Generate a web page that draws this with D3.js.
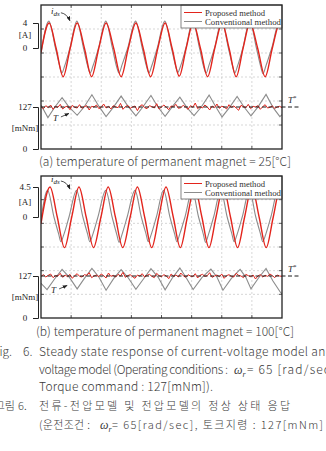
<!DOCTYPE html>
<html>
<head>
<meta charset="utf-8">
<script src="https://cdn.jsdelivr.net/npm/d3@7"></script>
<style>
  body { margin: 0; background: #fff; }
  svg { display: block; }
</style>
</head>
<body>
<svg id="chart" width="326" height="451"></svg>
<script>
// time base of both scope traces, ms (8 divisions, no labels)
const timeDomain = [0, 80];

// panel (a): 25 degC -- current i_ds [A], pairs of [ms, A]
const curRedA = [[0,-0.7],[2.7,4.0],[5.0,0],[7.35,-4.6],[9.7,0],[12.0,4.0],[14.4,0],[16.8,-4.6],[19.2,0],
  [21.6,4.0],[24.1,0],[26.6,-4.6],[29.0,0],[31.5,4.0],[33.9,0],[36.4,-4.6],[38.8,0],[41.2,4.0],[43.5,0],
  [45.9,-4.5],[48.2,0],[50.5,4.0],[52.9,0],[55.3,-4.6],[57.7,0],[60.1,4.0],[62.4,0],[64.8,-4.6],[67.1,0],
  [69.4,4.0],[71.9,0],[74.4,-4.6],[76.8,0],[79.3,4.0],[80,3.6]];
const curGrayA = [[0,-0.9],[2.6,4.3],[4.8,0],[6.2,-2.9],[6.9,-4.0],[7.9,-2.8],[9.6,0],
  [11.9,4.3],[14.1,0],[15.5,-2.9],[16.3,-4.0],[17.3,-2.8],[19.1,0],
  [21.5,4.3],[23.7,0],[25.1,-3.0],[25.9,-4.0],[26.9,-2.7],[28.8,0],
  [31.4,4.3],[33.6,0],[35.0,-2.9],[35.8,-4.0],[36.8,-2.8],[38.6,0],
  [41.1,4.3],[43.3,0],[44.7,-2.9],[45.4,-3.9],[46.4,-2.8],[48.1,0],
  [50.4,4.3],[52.6,0],[54.0,-3.0],[54.8,-4.0],[55.8,-2.7],[57.6,0],
  [60.0,4.3],[62.2,0],[63.6,-2.9],[64.3,-4.0],[65.3,-2.8],[67.0,0],
  [69.3,4.3],[71.5,0],[72.9,-2.9],[73.7,-4.1],[74.7,-2.8],[76.6,0],
  [79.2,4.3],[80,4.0]];

// panel (a): torque [mNm]; proposed is evenly sampled over the time base
const tqRedA = [128,122,131,125,133,120,129,126,135,121,127,130,119,132,126,124,134,123,128,131,
  118,129,127,133,122,126,136,124,129,121,131,127,125,138,120,128,132,123,127,130,
  116,129,134,125,122,131,128,124,137,121,127,133,126,119,130,128,135,123,125,132,
  127,120,131,126,139,122,128,124,133,127,118,130,125,136,123,129,127,121,134,126,
  130,124,117,132,128,125,135,122,129,127,131,120,128,134,124,126,130,123,127,129,125];
const tqGrayA = [[0,133],[2.3,95],[4.6,127],[7.0,155],[9.2,128],[12.0,102],[14.3,127],[16.9,164],
  [19.3,128],[21.6,98],[24.0,126],[26.6,160],[28.9,129],[31.5,100],[33.8,127],[36.5,162],[38.8,127],
  [41.2,99],[43.6,128],[46.1,157],[48.4,126],[50.8,101],[53.2,127],[55.8,163],[58.0,128],[60.1,97],
  [62.6,126],[65.1,159],[67.4,127],[69.7,100],[72.1,128],[74.7,165],[77.0,126],[79.3,98],[80,104]];

// panel (b): 100 degC
const curRedB = [[0,-1.0],[3.0,4.5],[5.4,0],[7.8,-4.6],[10.2,0],[12.6,4.5],[15.0,0],[17.45,-4.6],[19.9,0],
  [22.3,4.5],[24.7,0],[27.15,-4.6],[29.6,0],[32.0,4.5],[34.4,0],[36.75,-4.6],[39.1,0],[41.5,4.5],[43.9,0],
  [46.25,-4.6],[48.6,0],[51.0,4.5],[53.4,0],[55.75,-4.6],[58.1,0],[60.5,4.5],[62.9,0],[65.25,-4.6],[67.6,0],
  [70.0,4.5],[72.4,0],[74.75,-4.6],[77.1,0],[79.5,4.5],[80,4.3]];
const curGrayB = [[0,-0.3],[2.2,4.0],[4.3,0],[5.9,-2.6],[6.6,-3.7],[7.6,-2.6],[9.3,0],
  [11.8,4.0],[13.9,0],[15.5,-2.6],[16.2,-3.7],[17.2,-2.6],[18.9,0],
  [21.5,4.0],[23.6,0],[25.2,-2.7],[25.9,-3.8],[26.9,-2.6],[28.6,0],
  [31.2,4.0],[33.3,0],[34.9,-2.6],[35.6,-3.7],[36.6,-2.6],[38.3,0],
  [40.7,4.0],[42.8,0],[44.4,-2.6],[45.1,-3.7],[46.1,-2.5],[47.8,0],
  [50.2,4.0],[52.3,0],[53.9,-2.6],[54.6,-3.8],[55.6,-2.6],[57.3,0],
  [59.7,4.0],[61.8,0],[63.4,-2.6],[64.1,-3.7],[65.1,-2.6],[66.8,0],
  [69.2,4.0],[71.3,0],[72.9,-2.6],[73.6,-3.7],[74.6,-2.6],[76.3,0],
  [78.7,4.0],[80,3.3]];
const tqRedB = [126,131,124,129,133,122,128,127,135,123,130,125,132,120,128,134,126,124,131,129,
  137,122,127,130,125,133,128,121,136,126,129,124,132,127,138,123,128,131,125,120,
  130,127,134,124,129,132,126,122,135,128,125,131,127,119,133,126,130,124,136,128,
  123,131,127,125,134,121,129,132,126,128,137,123,127,130,125,133,120,128,131,126,
  124,135,129,127,122,132,128,125,130,118,127,131,124,129,126,133,128,122,130,127,126];
const tqGrayB = [[0,105],[2.0,86],[4.5,118],[7.0,147],[9.5,122],[12.0,88],[14.4,120],[16.9,150],
  [19.2,124],[21.6,84],[24.1,119],[26.6,146],[29.0,121],[31.5,87],[34.0,118],[36.5,149],[38.9,123],
  [41.2,85],[43.6,121],[46.1,151],[48.3,120],[50.5,86],[53.4,122],[56.4,148],[58.4,124],[60.4,84],
  [63.2,120],[66.1,147],[68.0,123],[69.7,88],[72.2,121],[74.7,150],[77.0,112],[79.3,80],[80,72]];

// axis ticks and labels
const curTicksA = [0, 4];
const curTicksB = [0, 4.5];
const torqueTicks = [0, 127];
const torqueRef = 127;
const legendLabels = ['Proposed method', 'Conventional method'];
const colors = ['#e3241c', '#8c8c8c'];

const svg = d3.select('#chart');
const left = 41, right = 282;
const serif = '"Liberation Serif","DejaVu Serif",serif';
const sans = '"Noto Sans CJK KR","Noto Sans",sans-serif';

const defs = svg.append('defs');
defs.append('marker')
  .attr('id', 'ah')
  .attr('viewBox', '0 0 10 10')
  .attr('refX', 9).attr('refY', 5)
  .attr('markerWidth', 6).attr('markerHeight', 6)
  .attr('orient', 'auto')
  .append('path').attr('d', 'M0,1L10,5L0,9z').attr('fill', '#222');

const panels = [
  { top: 5, bottom: 149, curTicks: curTicksA, curPx: [48, 23], tqPx: [149, 107],
    curRed: curRedA, curGray: curGrayA, tqRed: tqRedA, tqGray: tqGrayA,
    idsTip: [9.6, 4.2], tTip: [9.6, 109] },
  { top: 176, bottom: 318, curTicks: curTicksB, curPx: [217, 187], tqPx: [318, 276],
    curRed: curRedB, curGray: curGrayB, tqRed: tqRedB, tqGray: tqGrayB,
    idsTip: [9.6, 4.05], tTip: [9.0, 100] }
];

panels.forEach(drawPanel);

function drawPanel(p, idx) {
  const x = d3.scaleLinear().domain(timeDomain).range([left, right]);
  const yCur = d3.scaleLinear().domain(p.curTicks).range(p.curPx);
  const yTq = d3.scaleLinear().domain(torqueTicks).range(p.tqPx);
  const yDiv = d3.scaleLinear().domain([0, 6]).range([p.bottom, p.top]);
  const g = svg.append('g');

  const clipId = 'clip' + idx;
  defs.append('clipPath').attr('id', clipId).append('rect')
    .attr('x', left).attr('y', p.top)
    .attr('width', right - left).attr('height', p.bottom - p.top);

  // grid
  const vLines = d3.range(10, 80, 10);
  const hLines = d3.range(1, 6);
  g.selectAll('.vg').data(vLines).join('line').attr('class', 'vg')
    .attr('x1', d => x(d)).attr('x2', d => x(d))
    .attr('y1', p.top).attr('y2', p.bottom)
    .attr('stroke', '#c6c6c6').attr('stroke-width', 0.7).attr('stroke-dasharray', '2,2');
  g.selectAll('.hg').data(hLines).join('line').attr('class', 'hg')
    .attr('x1', left).attr('x2', right)
    .attr('y1', d => yDiv(d)).attr('y2', d => yDiv(d))
    .attr('stroke', '#c6c6c6').attr('stroke-width', 0.7).attr('stroke-dasharray', '2,2');

  // inner frame ticks
  const tk = g.append('g').attr('stroke', '#333').attr('stroke-width', 0.8);
  vLines.forEach(d => {
    tk.append('line').attr('x1', x(d)).attr('x2', x(d)).attr('y1', p.top).attr('y2', p.top + 3);
    tk.append('line').attr('x1', x(d)).attr('x2', x(d)).attr('y1', p.bottom).attr('y2', p.bottom - 3);
  });
  hLines.forEach(d => {
    tk.append('line').attr('x1', left).attr('x2', left + 3).attr('y1', yDiv(d)).attr('y2', yDiv(d));
    tk.append('line').attr('x1', right).attr('x2', right - 3).attr('y1', yDiv(d)).attr('y2', yDiv(d));
  });

  const curLine = d3.line().x(d => x(d[0])).y(d => yCur(d[1])).curve(d3.curveMonotoneX);
  const tqLine = d3.line().x(d => x(d[0])).y(d => yTq(d[1]));
  const plot = g.append('g').attr('clip-path', `url(#${clipId})`).attr('fill', 'none');

  const step = (timeDomain[1] - timeDomain[0]) / (p.tqRed.length - 1);
  plot.append('path').datum(p.tqGray).attr('d', tqLine)
    .attr('stroke', colors[1]).attr('stroke-width', 1.1);
  plot.append('path').datum(p.tqRed.map((v, i) => [timeDomain[0] + i * step, v])).attr('d', tqLine)
    .attr('stroke', colors[0]).attr('stroke-width', 1);
  plot.append('path').datum(p.curGray).attr('d', curLine)
    .attr('stroke', colors[1]).attr('stroke-width', 1.1);
  plot.append('path').datum(p.curRed).attr('d', curLine)
    .attr('stroke', colors[0]).attr('stroke-width', 1.4);

  // torque reference, runs out past the frame
  g.append('line')
    .attr('x1', x(0)).attr('x2', x(85.5))
    .attr('y1', yTq(torqueRef)).attr('y2', yTq(torqueRef))
    .attr('stroke', '#1a1a1a').attr('stroke-width', 1).attr('stroke-dasharray', '4,2.5');
  const ts = g.append('text').attr('x', x(82)).attr('y', yTq(torqueRef) - 4)
    .attr('font-family', serif).attr('font-size', 9).attr('fill', '#222');
  ts.append('tspan').attr('font-style', 'italic').text('T');
  ts.append('tspan').attr('font-size', 7).attr('dy', -3).text('*');

  // legend
  const lg = g.append('g').attr('transform', `translate(181,${p.top})`);
  lg.append('rect').attr('width', right - 181).attr('height', 23)
    .attr('fill', '#fff').attr('stroke', '#666').attr('stroke-width', 0.8);
  legendLabels.forEach((lab, i) => {
    lg.append('line').attr('x1', 3).attr('x2', 21).attr('y1', 7.5 + i * 9).attr('y2', 7.5 + i * 9)
      .attr('stroke', colors[i]).attr('stroke-width', 1);
    lg.append('text').attr('x', 24).attr('y', 10.5 + i * 9)
      .attr('font-family', serif).attr('font-size', 8.5).attr('fill', '#333')
      .attr('textLength', i ? 76 : 60).attr('lengthAdjust', 'spacingAndGlyphs')
      .text(lab);
  });

  // frame
  g.append('rect').attr('x', left).attr('y', p.top)
    .attr('width', right - left).attr('height', p.bottom - p.top)
    .attr('fill', 'none').attr('stroke', '#222').attr('stroke-width', 1.3);

  // bracket axes
  const bx = 38, labelX = 25;
  [[yCur, p.curTicks, '[A]'], [yTq, torqueTicks, '[mNm]']].forEach(([sc, ticks, unit]) => {
    const ax = g.append('g').attr('transform', `translate(${bx},0)`)
      .call(d3.axisLeft(sc).tickValues(ticks).tickSize(5).tickSizeOuter(5).tickFormat(d => String(d)));
    ax.attr('font-family', serif).attr('font-size', 9).attr('color', '#222');
    ax.select('.domain').attr('stroke-width', 1);
    ax.selectAll('.tick line').attr('stroke-width', 1);
    ax.selectAll('.tick text').attr('x', labelX - bx).attr('text-anchor', 'middle').attr('fill', '#222');
    g.append('text').attr('x', labelX).attr('y', (sc(ticks[0]) + sc(ticks[1])) / 2)
      .attr('dy', '0.32em').attr('text-anchor', 'middle')
      .attr('font-family', serif).attr('font-size', 9).attr('fill', '#222')
      .text(unit);
  });

  // i_ds annotation
  const ix = x(p.idsTip[0]), iy = yCur(p.idsTip[1]);
  const it = g.append('text').attr('x', ix - 19).attr('y', iy - 8)
    .attr('font-family', serif).attr('font-style', 'italic').attr('font-size', 9).attr('fill', '#222');
  it.append('tspan').text('i');
  it.append('tspan').attr('font-size', 7).attr('dy', 2).text('ds');
  g.append('path')
    .attr('d', `M${ix - 9},${iy - 9}Q${ix - 3},${iy - 8} ${ix},${iy - 1}`)
    .attr('fill', 'none').attr('stroke', '#222').attr('stroke-width', 0.8)
    .attr('marker-end', 'url(#ah)');

  // T annotation
  const tx = x(p.tTip[0]), ty = yTq(p.tTip[1]);
  g.append('text').attr('x', tx - 17).attr('y', ty + 8)
    .attr('font-family', serif).attr('font-style', 'italic').attr('font-size', 9).attr('fill', '#222')
    .text('T');
  g.append('path')
    .attr('d', `M${tx - 9},${ty + 4}L${tx - 1},${ty + 0.5}`)
    .attr('fill', 'none').attr('stroke', '#222').attr('stroke-width', 0.8)
    .attr('marker-end', 'url(#ah)');
}

// captions
function cap(xp, yp, str, len, size) {
  const t = svg.append('text').attr('x', xp).attr('y', yp)
    .attr('font-family', sans).attr('font-size', size || 12).attr('font-weight', 300)
    .attr('fill', '#3a3a3a').text(str);
  if (len) t.attr('textLength', len).attr('lengthAdjust', 'spacing');
  return t;
}
function omegaR(xp, yp) {
  const t = svg.append('text').attr('x', xp).attr('y', yp)
    .attr('font-family', serif).attr('font-size', 12).attr('fill', '#3a3a3a');
  t.append('tspan').attr('font-style', 'italic').text('ω');
  t.append('tspan').attr('font-style', 'italic').attr('font-size', 8).attr('dy', 3).text('r');
}

cap(39, 166, '(a) temperature of permanent magnet = 25[°C]', 252);
cap(36, 336, '(b) temperature of permanent magnet = 100[°C]', 258);
cap(12, 356, 'Fig.').attr('text-anchor', 'end');
cap(23, 356, '6.');
cap(39, 356, 'Steady state response of current-voltage model and', 294);
cap(39, 374, 'voltage model (Operating conditions :', 189);
omegaR(234, 374);
cap(247, 374, '= 65 [rad/sec],', 92);
cap(39, 391, 'Torque command : 127[mNm]).', 174);
cap(15, 410, '그림', null, 11).attr('text-anchor', 'end');
cap(18, 410, '6.', null, 11);
cap(39, 410, '전류-전압모델 및 전압모델의 정상 상태 응답', 251, 11);
cap(39, 429, '(운전조건 :', 51, 11);
omegaR(100, 429);
cap(112, 429, '= 65[rad/sec], 토크지령 : 127[mNm]', 211, 11);
</script>
</body>
</html>
